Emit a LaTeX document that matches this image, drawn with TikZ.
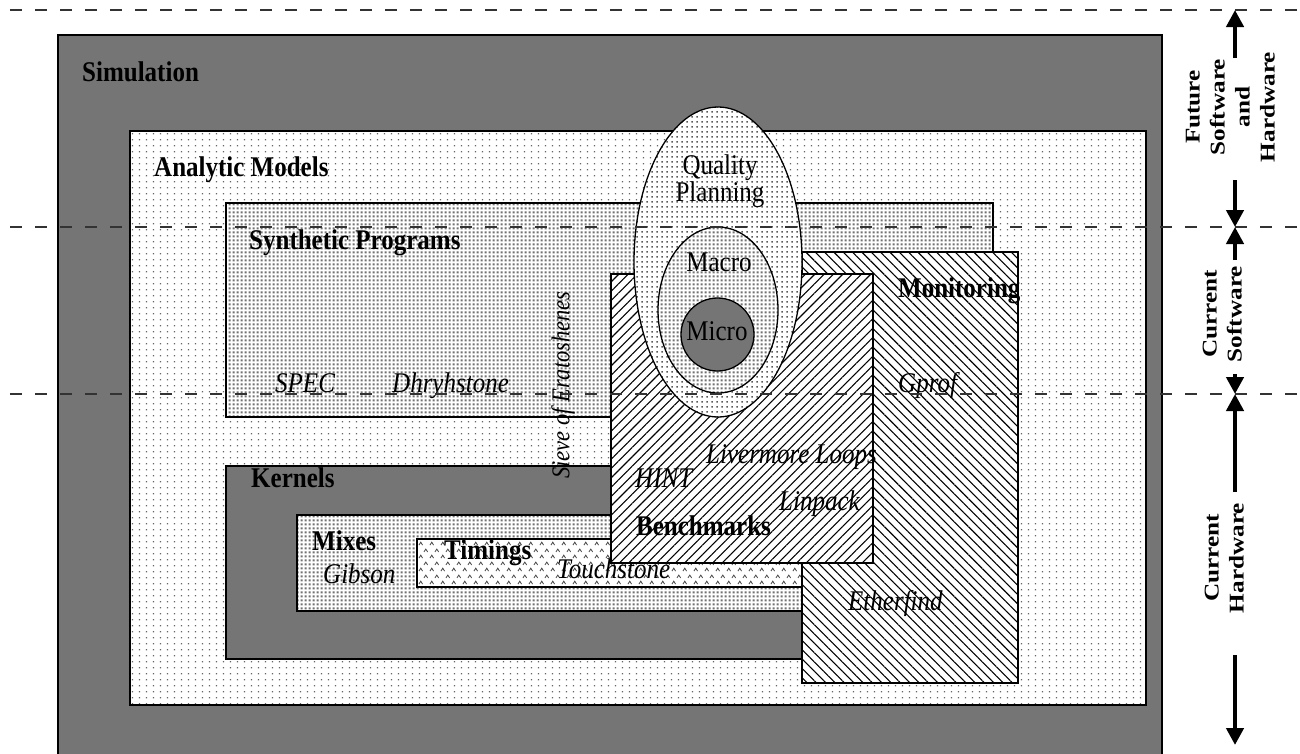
\documentclass[tikz,border=0pt]{standalone}
\usepackage{fontspec}
\setmainfont{Liberation Serif}
\usetikzlibrary{patterns,patterns.meta,arrows.meta}

\newcommand{\vs}[1]{\scalebox{1}[1.14]{#1}}

\pgfdeclarepatternformonly{sparsedots}{\pgfqpoint{0pt}{0pt}}{\pgfqpoint{6.5pt}{6pt}}{\pgfqpoint{6.5pt}{6pt}}{%
 \pgfpathrectangle{\pgfqpoint{2pt}{2pt}}{\pgfqpoint{1.3pt}{1.3pt}}\pgfusepath{fill}}
\pgfdeclarepatternformonly{meddots}{\pgfqpoint{0pt}{0pt}}{\pgfqpoint{5pt}{5pt}}{\pgfqpoint{5pt}{5pt}}{%
 \pgfpathrectangle{\pgfqpoint{1.5pt}{1.5pt}}{\pgfqpoint{1.8pt}{1.8pt}}\pgfusepath{fill}}
\pgfdeclarepatternformonly{densesq}{\pgfqpoint{0pt}{0pt}}{\pgfqpoint{4pt}{4pt}}{\pgfqpoint{4pt}{4pt}}{%
 \pgfpathrectangle{\pgfqpoint{0.7pt}{0.7pt}}{\pgfqpoint{2.6pt}{2.6pt}}\pgfusepath{fill}}
\pgfdeclarepatternformonly{carets}{\pgfqpoint{0pt}{0pt}}{\pgfqpoint{11pt}{13pt}}{\pgfqpoint{11pt}{13pt}}{%
 \pgfsetlinewidth{0.9pt}%
 \pgfpathmoveto{\pgfqpoint{1pt}{1pt}}\pgfpathlineto{\pgfqpoint{3pt}{4pt}}\pgfpathlineto{\pgfqpoint{5pt}{1pt}}%
 \pgfpathmoveto{\pgfqpoint{6.5pt}{7.5pt}}\pgfpathlineto{\pgfqpoint{8.5pt}{10.5pt}}\pgfpathlineto{\pgfqpoint{10.5pt}{7.5pt}}%
 \pgfusepath{stroke}}

\begin{document}
\begin{tikzpicture}[x=1pt,y=-1pt,
  box/.style={draw=black,line width=1.3pt},
  darkfill/.style={box,fill=black!54},
  sparsefill/.style={box,preaction={fill=white},pattern=sparsedots,pattern color=black!60},
  medfill/.style={box,preaction={fill=white},pattern=densesq,pattern color=black!55},
  dotfill/.style={box,preaction={fill=white},pattern=meddots,pattern color=black!65},
  caretfill/.style={box,preaction={fill=white},pattern=carets,pattern color=black!70},
  nefill/.style={box,preaction={fill=white},pattern={Lines[angle=45,distance=6.6pt,line width=1.1pt]}},
  nwfill/.style={box,preaction={fill=white},pattern={Lines[angle=-45,distance=6.6pt,line width=1.1pt]}},
  bl/.style={font=\fontsize{25}{25}\selectfont\bfseries,inner sep=0pt,anchor=base west},
  it/.style={font=\fontsize{25}{25}\selectfont\itshape,inner sep=0pt,anchor=base west},
  rm/.style={font=\fontsize{25}{21}\selectfont,inner sep=0pt,align=center},
  side/.style={font=\fontsize{21}{25}\selectfont\bfseries,inner sep=0pt,rotate=90},
  bigarrow/.style={line width=4.5pt,-{Triangle[width=17pt,length=17pt]}},
  dashline/.style={draw=black!80,line width=1.2pt,dash pattern=on 12pt off 13pt}]
\useasboundingbox (0,0) rectangle (1300,753);

% regions
\path[darkfill] (58,35) rectangle (1162,765);
\path[sparsefill] (130,131) rectangle (1146,705);
\path[medfill] (226,203) rectangle (993,417);
\path[darkfill] (226,466) rectangle (820,659);
\path[medfill] (297,515) rectangle (820,611);
\path[caretfill] (417,539) rectangle (820,587);
\path[nwfill] (802,252) rectangle (1018,683);
\path[nefill] (611,274) rectangle (873,563);
\path[dotfill] (718,262) ellipse [x radius=84, y radius=155];
\path[medfill] (718,310) ellipse [x radius=60, y radius=83];
\path[darkfill] (717.5,334.5) circle [radius=36.5];

% labels
\node[bl] (sim) at (82,81) {\vs{Simulation}};
\node[bl] (ana) at (154,176) {\vs{Analytic Models}};
\node[bl] (syn) at (249,249) {\vs{Synthetic Programs}};
\node[it] (spec) at (275,392) {\vs{SPEC}};
\node[it] (dhry) at (392,392) {\vs{Dhryhstone}};
\node[font=\fontsize{22.5}{25}\selectfont\itshape,inner sep=0pt,rotate=90] (sieve) at (563,385) {\vs{Sieve of Eratoshenes}};
\node[bl] (ker) at (251,487) {\vs{Kernels}};
\node[bl] (mix) at (312,550) {\vs{Mixes}};
\node[it] (gib) at (323,583) {\vs{Gibson}};
\node[bl] (tim) at (444,559) {\vs{Timings}};
\node[it] (touch) at (557,578) {\vs{Touchstone}};
\node[it] (hint) at (635,487) {\vs{HINT}};
\node[it] (liv) at (706,463) {\vs{Livermore Loops}};
\node[it] (lin) at (779,510) {\vs{Linpack}};
\node[bl] (bench) at (636,535) {\vs{Benchmarks}};
\node[bl] (mon) at (898,297) {\vs{Monitoring}};
\node[it] (gprof) at (898,392) {\vs{Gprof}};
\node[it] (ether) at (848,610) {\vs{Etherfind}};
\node[rm,anchor=base] (qp1) at (720,174) {\vs{Quality}};
\node[rm,anchor=base] (qp2) at (720,201) {\vs{Planning}};
\node[rm,anchor=base] (mac) at (719,271) {\vs{Macro}};
\node[rm,anchor=base] (mic) at (717,340) {\vs{Micro}};

% side labels
\node[side] (fsh) at (1232,107) {\scalebox{1.2}[1]{\begin{tabular}{@{}c@{}}Future\\Software\\and\\Hardware\end{tabular}}};
\node[side] (cs) at (1224,314) {\scalebox{1.2}[1]{\begin{tabular}{@{}c@{}}Current\\Software\end{tabular}}};
\node[side] (ch) at (1226,558) {\scalebox{1.2}[1]{\begin{tabular}{@{}c@{}}Current\\Hardware\end{tabular}}};

% dashed lines
\coordinate (l1) at (10,10);   \coordinate (r1) at (1300,10);
\coordinate (l2) at (10,227);  \coordinate (r2) at (1300,227);
\coordinate (l3) at (10,394);  \coordinate (r3) at (1300,394);
\draw[dashline] (l1) -- (r1);
\draw[dashline] (l2) -- (r2);
\draw[dashline] (l3) -- (r3);

% arrows
\coordinate (t1) at (1235,10);
\coordinate (t2) at (1235,227);
\coordinate (t3) at (1235,394);
\coordinate (t4) at (1235,745);
\coordinate (a1) at (1235,58);
\coordinate (a2) at (1235,180);
\coordinate (a3) at (1235,260);
\coordinate (a4) at (1235,374);
\coordinate (a5) at (1235,492);
\coordinate (a6) at (1235,655);
\draw[bigarrow] (a1) -- (t1);
\draw[bigarrow] (a2) -- (t2);
\draw[bigarrow] (a3) -- (t2);
\draw[bigarrow] (a4) -- (t3);
\draw[bigarrow] (a5) -- (t3);
\draw[bigarrow] (a6) -- (t4);
\end{tikzpicture}
\end{document}
